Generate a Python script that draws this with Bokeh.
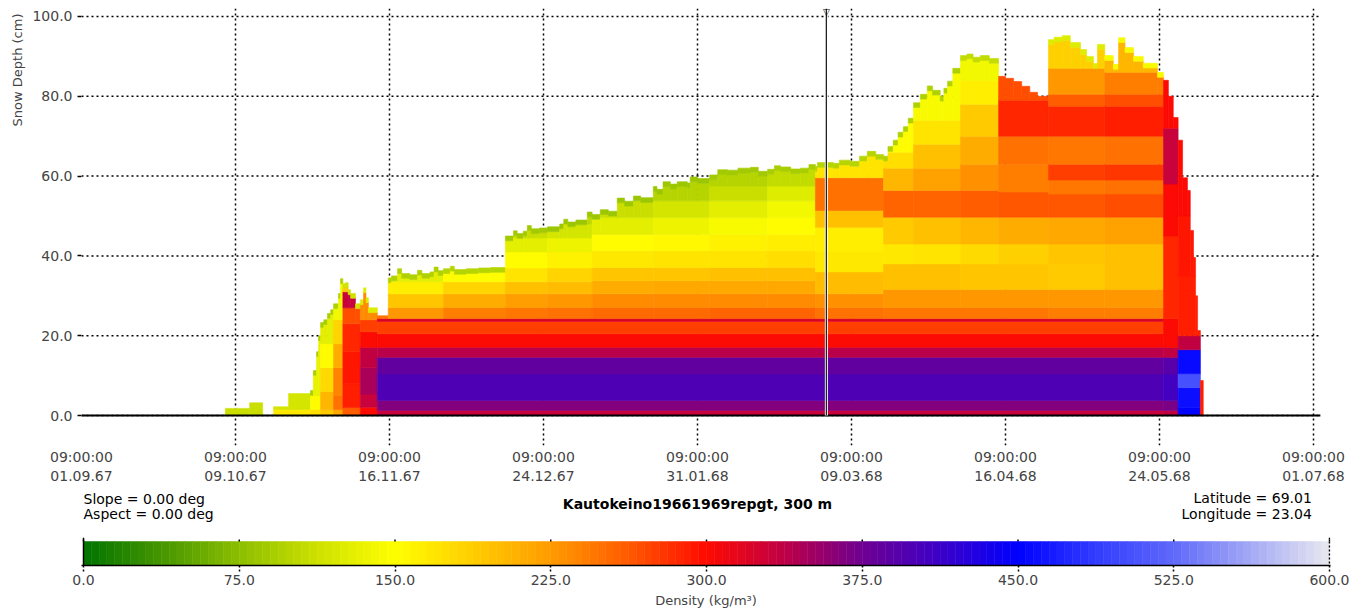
import numpy as np
from bokeh.plotting import figure
from bokeh.models import (ColumnDataSource, Range1d, FixedTicker, LinearAxis, Span, Label, Title)
from bokeh.layouts import column
from bokeh.embed import file_html
from bokeh.resources import INLINE
from bokeh.transform import linear_cmap

# ---------------- data ----------------
# x axis: days after 01.09.67 09:00
TICK_DAYS = [0, 38, 76, 114, 152, 190, 228, 266, 304]
TICK_TIMES = ["09:00:00"] * 9
TICK_DATES = ["01.09.67", "09.10.67", "16.11.67", "24.12.67", "31.01.68",
              "09.03.68", "16.04.68", "24.05.68", "01.07.68"]
Y_TICKS = [0, 20, 40, 60, 80, 100]
Y_LABELS = ["0.0", "20.0", "40.0", "60.0", "80.0", "100.0"]
CB_TICKS = [0, 75, 150, 225, 300, 375, 450, 525, 600]
CB_LABELS = ["0.0", "75.0", "150.0", "225.0", "300.0", "375.0", "450.0", "525.0", "600.0"]

# snow height series (day, cm)
HS_DAY = [35.5, 41.5, 44.7, 47.4, 51.1, 56.5, 57.2, 58.0, 58.5, 59.0, 59.8, 60.7, 61.5, 62.2,
          63.4, 63.9, 64.5, 65.1, 65.8, 66.4, 67.6, 68.8, 69.6, 70.2, 70.8, 73.0, 75.7, 76.5,
          78.0, 79.0, 81.0, 82.9, 84.0, 86.0, 87.0, 88.0, 89.3, 91.0, 92.0, 95.0, 98.0, 101.0,
          104.6, 106.6, 107.5, 109.0, 110.0, 111.0, 113.0, 115.0, 118.0, 119.0, 120.0, 122.0,
          124.8, 126.0, 128.0, 130.0, 132.2, 134.0, 136.2, 138.0, 141.1, 142.0, 143.5, 145.3,
          147.0, 149.5, 150.2, 152.0, 155.0, 157.0, 159.4, 162.0, 165.1, 167.0, 169.3, 171.0,
          172.5, 175.0, 177.4, 179.5, 181.1, 181.6, 185.5, 187.0, 189.7, 192.0, 193.9, 196.0,
          197.9, 199.0, 200.3, 201.5, 202.8, 204.0, 205.3, 207.0, 208.7, 210.0, 211.9, 212.8,
          213.7, 215.0, 216.9, 218.5, 220.0, 221.8, 224.0, 226.3, 228.0, 230.0, 232.0, 234.0,
          235.9, 238.6, 240.0, 242.0, 244.0, 246.5, 248.0, 249.7, 250.7, 252.5, 254.6, 255.9,
          257.5, 259.6, 262.0, 265.5, 267.0, 268.2, 269.4, 270.6, 271.7, 272.9, 273.6, 274.4,
          274.9, 275.4, 276.1, 276.8]
HS_CM = [1.8, 3.2, 0.0, 2.2, 5.5, 6.3, 11.3, 16.0, 20.0, 23.3, 24.0, 25.6, 26.5, 28.0,
         30.6, 34.3, 33.0, 33.3, 31.5, 30.6, 28.0, 29.0, 32.0, 29.5, 27.0, 25.0, 34.5, 35.0,
         36.8, 35.6, 35.3, 36.4, 35.6, 36.0, 37.2, 36.3, 36.8, 37.4, 36.6, 36.8, 37.0, 37.1,
         45.0, 46.3, 45.6, 46.2, 47.6, 46.8, 47.0, 47.3, 48.0, 49.2, 48.5, 49.0,
         51.0, 50.4, 51.6, 51.2, 54.5, 53.7, 55.0, 54.6, 57.4, 56.7, 58.6, 58.0,
         58.6, 58.3, 59.8, 59.4, 60.3, 61.6, 61.5, 62.0, 62.2, 61.2, 61.7, 62.6,
         62.3, 61.8, 62.0, 62.9, 62.4, 63.4, 63.2, 64.0, 63.7, 65.0, 66.2, 65.4,
         65.0, 67.4, 69.0, 71.0, 72.4, 74.5, 78.4, 80.5, 82.6, 81.5, 80.0, 82.0,
         83.8, 87.0, 90.2, 90.6, 89.8, 90.2, 89.5, 85.0, 84.5, 83.7, 82.5, 81.0,
         80.0, 94.2, 94.8, 95.2, 93.5, 91.7, 90.0, 88.2, 93.0, 90.2, 88.0, 94.7,
         92.2, 90.0, 88.3, 86.0, 84.0, 80.0, 74.7, 69.0, 59.6, 56.4, 46.4, 39.6,
         30.0, 21.3, 8.8, 0.0]

# density layering (kg/m3): each profile holds from its day until the next one
L_TOP = [1.3, 3.8, 10.4, 14.6, 17.1, 20.5, 23.6, 24.3]
L_RHO = [330, 365, 400, 385, 340, 300, 275, 320]

PROF_DAY = [35.0, 47.0, 56.5, 59.0, 62.0, 64.0, 68.1, 72.0, 75.7, 89.0, 104.6, 115.0,
            125.0, 140.0, 155.0, 168.0, 181.1, 197.0, 205.0, 216.0, 226.3, 238.6, 252.0,
            266.5, 270.3, 276.0]
PROF_TOP = [
    [100],
    [1.5, 100],
    [1.5, 5, 100],
    [1.5, 6, 12, 18, 100],
    [1.5, 5, 12, 18, 24, 100],
    [2, 8, 16, 23, 27, 31, 100],
    [2.1, 5.4, 12, 17.1, 21, 24, 100],
    L_TOP + [100],
    L_TOP + [27.1, 30.5, 33.5, 100],
    L_TOP + [27.1, 30.5, 33.5, 100],
    L_TOP + [27.1, 30.5, 33.5, 37, 41, 44.5, 100],
    L_TOP + [27.1, 30.5, 33.5, 37, 41, 44.5, 48, 100],
    L_TOP + [27.1, 30.5, 33.8, 37.1, 41.3, 45.4, 49.6, 53.8, 100],
    L_TOP + [27.1, 30.5, 33.8, 37.1, 41.3, 45.4, 49.6, 53.8, 100],
    L_TOP + [27.1, 30.5, 33.8, 37.1, 41.3, 45.4, 49.6, 53.8, 57.5, 100],
    L_TOP + [27.1, 30.5, 33.8, 37.1, 41.3, 45.4, 49.6, 53.8, 57.5, 100],
    L_TOP + [27.1, 30.5, 36, 41, 47.2, 51.4, 59.6, 100],
    L_TOP + [27.1, 31.6, 38, 43, 49.7, 56.4, 62, 66, 100],
    L_TOP + [27.1, 31.6, 38, 43, 49.7, 56.4, 62, 68, 74, 100],
    L_TOP + [27.1, 31.6, 38, 43, 49.7, 56.4, 63, 70, 78, 84, 100],
    L_TOP + [27.1, 31.6, 38, 43, 49.7, 56, 63, 70, 79, 100],
    L_TOP + [27.1, 31.6, 38, 43, 49.7, 55.5, 59, 63, 70, 77.5, 80.5, 87, 100],
    L_TOP + [27.1, 31.6, 38, 43, 49.7, 55.5, 59, 63, 70, 77.5, 80.5, 86, 100],
    [1.3, 3.8, 10.4, 14.6, 17.1, 24.3, 45, 58, 72, 100],
    [2, 7, 10.5, 16.5, 20, 35, 50, 100],
    [100],
]
PROF_RHO = [
    [112],
    [165, 118],
    [175, 150, 132],
    [190, 205, 178, 152, 128],
    [215, 248, 238, 212, 180, 142],
    [262, 292, 295, 285, 268, 330, 190],
    [300, 330, 345, 335, 300, 275, 235],
    L_RHO + [250],
    L_RHO + [225, 192, 162, 128],
    L_RHO + [240, 210, 180, 150],
    L_RHO + [245, 222, 196, 172, 150, 130, 110],
    L_RHO + [248, 226, 202, 180, 158, 138, 118, 102],
    L_RHO + [252, 233, 213, 193, 168, 150, 128, 112, 100],
    L_RHO + [254, 234, 214, 194, 170, 155, 136, 118, 100],
    L_RHO + [255, 235, 215, 195, 172, 160, 145, 128, 112, 100],
    L_RHO + [255, 236, 217, 198, 175, 163, 152, 140, 125, 105],
    L_RHO + [250, 232, 200, 168, 162, 195, 250, 170],
    L_RHO + [245, 225, 195, 165, 190, 255, 205, 175, 150],
    L_RHO + [245, 225, 195, 170, 195, 258, 218, 195, 170, 145],
    L_RHO + [245, 228, 192, 178, 205, 262, 232, 212, 188, 162, 140],
    L_RHO + [245, 228, 192, 185, 212, 265, 240, 250, 285, 268],
    L_RHO + [240, 225, 190, 192, 215, 265, 245, 275, 245, 287, 260, 225, 185],
    L_RHO + [242, 228, 195, 198, 220, 268, 250, 280, 250, 290, 268, 240, 205],
    [335, 370, 405, 390, 335, 300, 285, 300, 330, 300],
    [450, 458, 505, 455, 335, 290, 295, 300],
    [290],
]
# density of the thin fresh-snow skin at the surface (0 = none)
PROF_SKIN = [0, 0, 90, 90, 95, 115, 125, 0, 95, 100, 88, 86, 85, 86,
             88, 92, 100, 95, 95, 105, 0, 125, 145, 0, 0, 0]
SKIN_CM = 1.2
MARK_DAY = 183.8

# colour scale stops
CMAP_RHO = [0, 37.5, 75, 112.5, 150, 187.5, 225, 262.5, 300, 337.5, 375, 412.5,
            450, 487.5, 525, 562.5, 600]
CMAP_RGB = [(0, 115, 0), (70, 150, 0), (140, 190, 0), (205, 225, 0), (255, 255, 0),
            (255, 205, 0), (255, 155, 0), (255, 90, 0), (255, 10, 0), (190, 0, 70),
            (110, 0, 145), (60, 0, 200), (0, 0, 255), (50, 60, 255), (95, 105, 250),
            (165, 170, 245), (232, 232, 240)]

# ---------------- palette ----------------
N_COL = 160
palette = []
for k in range(N_COL):
    v = (k + 0.5) * 600.0 / N_COL
    rgb = [int(round(np.interp(v, CMAP_RHO, [c[i] for c in CMAP_RGB]))) for i in range(3)]
    palette.append("#%02x%02x%02x" % tuple(rgb))

# ---------------- field quads (identical neighbouring cells are merged) ----------------
L, R, B, T, RHO = [], [], [], [], []
prev = {}
for i in range(len(HS_DAY) - 1):
    d0, d1, h = HS_DAY[i], HS_DAY[i + 1], HS_CM[i]
    cur = {}
    if h > 0:
        k = max(j for j in range(len(PROF_DAY)) if PROF_DAY[j] <= d0)
        skin = PROF_SKIN[k]
        core = h - SKIN_CM if skin else h
        cells = []
        bot = 0.0
        for t, r in zip(PROF_TOP[k], PROF_RHO[k]):
            top = min(t, core)
            if top > bot:
                cells.append((bot, top, r))
            bot = t
            if bot >= core:
                break
        if skin:
            cells.append((max(core, 0), h, skin))
        for c in cells:
            if c in prev:
                idx = prev[c]
                R[idx] = d1
            else:
                L.append(d0); R.append(d1); B.append(c[0]); T.append(c[1]); RHO.append(c[2])
                idx = len(L) - 1
            cur[c] = idx
    prev = cur

src = ColumnDataSource(dict(left=L, right=R, bottom=B, top=T, rho=RHO))

FONT = "DejaVu Sans"
W = 1349
BL, BR = 81, 19          # frame borders shared by all panels (column aligns frames)
X_END = 308.2            # days visible in the main frame
GRID_END = 305.7         # horizontal grid lines end here

# ---------------- main panel ----------------
p = figure(width=W, height=490, x_range=Range1d(0, X_END), y_range=Range1d(-7.5, 102.0),
           output_backend="svg", toolbar_location=None,
           min_border_left=BL, min_border_right=BR, min_border_top=8, min_border_bottom=45)
p.outline_line_color = None
p.background_fill_color = "white"
p.border_fill_color = "white"

# horizontal dotted grid lines (drawn under the snow)
p.segment(x0=[0] * len(Y_TICKS), x1=[GRID_END] * len(Y_TICKS), y0=Y_TICKS, y1=Y_TICKS,
          line_color="black", line_dash="2 3", line_width=1.5, level="underlay")
p.ygrid.visible = False
p.xgrid.ticker = FixedTicker(ticks=TICK_DAYS)
p.xgrid.grid_line_color = "black"
p.xgrid.grid_line_dash = "2 3"
p.xgrid.grid_line_width = 1.5

cmap = linear_cmap("rho", palette, 0, 600)
p.quad(left="left", right="right", bottom="bottom", top="top", source=src,
       fill_color=cmap, line_color=cmap, line_width=0.6)

# baseline
p.segment(x0=[0], x1=[GRID_END], y0=[0], y1=[0], line_color="black", line_width=2)

# vertical marker line
p.segment(x0=[MARK_DAY], y0=[0], x1=[MARK_DAY], y1=[102], line_color="white", line_width=3)
p.segment(x0=[MARK_DAY], y0=[0], x1=[MARK_DAY], y1=[102], line_color="#222222", line_width=1.3)
p.add_layout(Label(x=MARK_DAY, y=101.2, text="\u25bd", text_font=FONT, text_font_size="9px",
                   text_align="center", text_baseline="middle", text_color="black"))

# y axis
ya = p.yaxis[0]
ya.ticker = FixedTicker(ticks=Y_TICKS)
ya.major_label_overrides = {t: s for t, s in zip(Y_TICKS, Y_LABELS)}
ya.axis_line_color = None
ya.major_tick_in = 0
ya.major_tick_out = 4
ya.major_tick_line_width = 1.5
ya.minor_tick_line_color = None
ya.major_label_standoff = 5
ya.major_label_text_font = FONT
ya.major_label_text_font_size = "14px"
p.add_layout(Title(text="Snow Depth (cm)", align="right", text_font=FONT,
                   text_font_size="13px", text_font_style="normal", offset=5), "left")

# x axes (time row and date row)
xa = p.xaxis[0]
xa.ticker = FixedTicker(ticks=TICK_DAYS)
xa.major_label_overrides = {t: s for t, s in zip(TICK_DAYS, TICK_TIMES)}
xa2 = LinearAxis(ticker=FixedTicker(ticks=TICK_DAYS),
                 major_label_overrides={t: s for t, s in zip(TICK_DAYS, TICK_DATES)})
p.add_layout(xa2, "below")
for a in (xa, xa2):
    a.axis_line_color = None
    a.major_tick_line_color = None
    a.major_tick_in = 0
    a.major_tick_out = 0
    a.minor_tick_line_color = None
    a.minor_tick_out = 0
    a.major_label_standoff = 3
    a.major_label_text_font = FONT
    a.major_label_text_font_size = "14px"

# ---------------- info text row ----------------
tf = figure(width=W, height=32, x_range=p.x_range, y_range=Range1d(32, 0),
            output_backend="svg", toolbar_location=None,
            min_border_left=BL, min_border_right=BR, min_border_top=0, min_border_bottom=0)
tf.outline_line_color = None
tf.axis.visible = False
tf.grid.visible = False

def txt(x, y, s, align, bold=False):
    tf.add_layout(Label(x=x, y=y, text=s, text_font=FONT, text_font_size="14px",
                        text_align=align, text_baseline="middle", text_color="black",
                        text_font_style="bold" if bold else "normal"))

txt(0.5, 8, "Slope = 0.00 deg", "left")
txt(0.5, 23, "Aspect = 0.00 deg", "left")
txt(152.0, 13, "Kautokeino19661969repgt, 300 m", "center", bold=True)
txt(303.6, 7.5, "Latitude = 69.01", "right")
txt(303.6, 23.5, "Longitude = 23.04", "right")

# ---------------- colour bar ----------------
CB_TOP = 28.0 / 24.0     # frame reaches 4 px above the bar for the upper tick marks
cb = figure(width=W, height=89, x_range=Range1d(-0.963, 600.48), y_range=Range1d(0, CB_TOP),
            output_backend="svg", toolbar_location=None,
            min_border_left=BL, min_border_right=BR, min_border_top=15, min_border_bottom=46)
cb.outline_line_color = None
cb.xgrid.visible = False
cb.ygrid.visible = False
cb.yaxis.visible = False
w = 600.0 / N_COL
cb.quad(left=[k * w for k in range(N_COL)], right=[(k + 1) * w for k in range(N_COL)],
        bottom=0, top=1, fill_color=palette, line_color=palette, line_width=0.5)
cb.segment(x0=CB_TICKS, x1=CB_TICKS, y0=[1.0] * len(CB_TICKS), y1=[CB_TOP] * len(CB_TICKS),
           line_color="black", line_width=1.5, line_dash="2 2")
cb.add_layout(Span(location=0, dimension="height", line_color="black", line_width=1.5))
cb.add_layout(Span(location=600, dimension="height", line_color="black", line_width=1.5,
                   line_dash="2 2"))
cx = cb.xaxis[0]
cx.ticker = FixedTicker(ticks=CB_TICKS)
cx.major_label_overrides = {t: s for t, s in zip(CB_TICKS, CB_LABELS)}
cx.axis_line_color = "black"
cx.axis_line_width = 1.5
cx.major_tick_in = 0
cx.major_tick_out = 6
cx.major_tick_line_dash = "2 2"
cx.major_tick_line_width = 1.5
cx.minor_tick_line_color = None
cx.major_label_standoff = 3
cx.major_label_text_font = FONT
cx.major_label_text_font_size = "14px"
cx.axis_label = "Density (kg/m\u00b3)"
cx.axis_label_text_font = FONT
cx.axis_label_text_font_size = "13px"
cx.axis_label_text_font_style = "normal"
cx.axis_label_standoff = 5

layout = column(p, tf, cb, spacing=0)
open("out.html", "w").write(file_html(layout, INLINE))
